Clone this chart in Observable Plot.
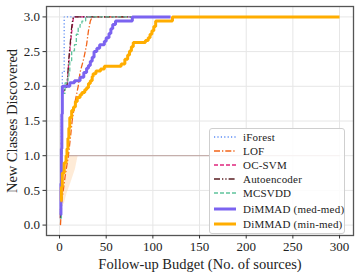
<!DOCTYPE html>
<html><head><meta charset="utf-8">
<script src="https://cdn.jsdelivr.net/npm/d3@7"></script>
<script src="https://cdn.jsdelivr.net/npm/@observablehq/plot@0.6"></script>
<style>
body{margin:0;background:#fff;}
#wrap{position:relative;width:360px;height:278px;font-family:"Liberation Serif",serif;}
#legend{position:absolute;left:209px;top:127.5px;width:134px;height:104px;border:1px solid #cfcfcf;border-radius:3px;background:rgba(255,255,255,0.85);font-size:11px;color:#222;font-family:"Liberation Serif",serif;}
#legend .row{position:absolute;left:0;height:14px;display:flex;align-items:center;}
#legend .row span{position:absolute;left:33px;white-space:nowrap;line-height:14px;letter-spacing:0.2px;}
#legend svg{position:absolute;left:3px;top:0;}
</style>
</head><body>
<div id="wrap"></div>
<script>
const xTicks = [0, 50, 100, 150, 200, 250, 300];
const yTicks = [0.0, 0.5, 1.0, 1.5, 2.0, 2.5, 3.0];

const iForestX = [1, 1.5, 2, 2.5, 3, 5, 77];
const iForestY = [0.3, 1.0, 1.6, 2.0, 2.2, 3.0, 3.0];

const lofX = [1, 2.5, 6, 9.5, 12, 13.5, 17, 20, 22, 26, 29, 31, 33, 35, 77];
const lofY = [0.0, 0.35, 0.7, 1.0, 1.3, 1.5, 1.8, 2.0, 2.2, 2.4, 2.6, 2.8, 2.94, 3.0, 3.0];

const ocsvmX = [1, 2, 3, 8, 10, 12, 14, 15, 77];
const ocsvmY = [0.1, 1.0, 1.9, 2.0, 2.35, 2.65, 2.9, 3.0, 3.0];

const aeX = [1, 2, 3, 8, 9, 10, 11, 12, 13, 14, 15, 77];
const aeY = [0.1, 1.0, 1.9, 2.0, 2.2, 2.4, 2.55, 2.7, 2.85, 2.95, 3.0, 3.0];

const mcsvddX = [1, 2, 3, 6, 9, 10, 11, 13, 16, 18, 20, 22, 24, 28, 77];
const mcsvddY = [0.1, 1.0, 1.9, 2.05, 2.13, 2.2, 2.37, 2.51, 2.6, 2.75, 2.84, 2.89, 2.94, 3.0, 3.0];

const medX = [1, 1.5, 2, 2.5, 3, 11, 16, 22, 26, 29, 31, 33, 35, 37, 40, 43, 48, 50, 53, 55, 57, 60, 78, 119];
const medY = [0.15, 0.6, 1.1, 1.6, 2.0, 2.05, 2.08, 2.13, 2.2, 2.26, 2.3, 2.36, 2.42, 2.5, 2.55, 2.6, 2.65, 2.7, 2.76, 2.83, 2.89, 2.94, 3.0, 3.0];

const minX = [1, 2, 3, 5, 7, 8, 9, 10, 11, 13, 15, 17, 19, 22, 24, 27, 29, 31, 33, 35, 36, 39, 44, 48, 66, 70, 73, 75, 77, 79, 92, 95, 97, 99, 101, 103, 121, 300];
const minY = [0.35, 0.55, 0.75, 0.9, 1.0, 1.1, 1.25, 1.4, 1.55, 1.65, 1.7, 1.78, 1.84, 1.88, 1.91, 1.95, 1.98, 2.04, 2.08, 2.14, 2.18, 2.22, 2.25, 2.29, 2.32, 2.39, 2.45, 2.51, 2.57, 2.63, 2.66, 2.7, 2.75, 2.8, 2.86, 2.94, 3.0, 3.0];

const bandY  = [0.3, 0.45, 0.6, 0.8, 1.0];
const bandX1 = [1, 1.5, 2, 3, 8];
const bandX2 = [5, 8, 12, 17, 20];

const refLineX = [9, 300];
const refLineY = [1, 1];

const series = [
  {name: "iForest", xs: iForestX, ys: iForestY, color: "#5b8cf5", width: 1.3, dash: "1.2,2.2", curve: "step-after"},
  {name: "LOF", xs: lofX, ys: lofY, color: "#f26419", width: 1.3, dash: "6,2,1.3,2", curve: "linear"},
  {name: "OC-SVM", xs: ocsvmX, ys: ocsvmY, color: "#e0267e", width: 1.3, dash: "4,2", curve: "linear"},
  {name: "Autoencoder", xs: aeX, ys: aeY, color: "#5a1e22", width: 1.3, dash: "6,2,1.3,2,1.3,2", curve: "linear"},
  {name: "MCSVDD", xs: mcsvddX, ys: mcsvddY, color: "#5fc49c", width: 1.3, dash: "4,2", curve: "step-after"},
  {name: "DiMMAD (med-med)", xs: medX, ys: medY, color: "#7b63f0", width: 3, dash: null, curve: "step-after"},
  {name: "DiMMAD (min-med)", xs: minX, ys: minY, color: "#ffad00", width: 3, dash: null, curve: "step-after"}
];

const toRows = (xs, ys) => xs.map((x, i) => ({x, y: ys[i]}));
const band = bandY.map((y, i) => ({y, x1: bandX1[i], x2: bandX2[i]}));

const marks = [
  Plot.gridX(xTicks, {stroke: "#e6e6e6", strokeOpacity: 1}),
  Plot.gridY(yTicks, {stroke: "#e6e6e6", strokeOpacity: 1}),
  Plot.areaX(band, {y: "y", x1: "x1", x2: "x2", fill: "#fdd2a6", fillOpacity: 0.45}),
  Plot.line(toRows(refLineX, refLineY), {x: "x", y: "y", stroke: "#b89a96", strokeWidth: 0.9})
];
for (const s of series) {
  marks.push(Plot.line(toRows(s.xs, s.ys), {x: "x", y: "y", stroke: s.color, strokeWidth: s.width,
    strokeDasharray: s.dash || undefined, curve: s.curve, strokeLinejoin: "miter", strokeLinecap: "butt"}));
}
marks.push(
  Plot.frame({stroke: "#555", strokeWidth: 1.3}),
  Plot.axisX(xTicks, {tickSize: 3.5, tickPadding: 3, fontSize: 13, label: null, stroke: "#333", color: "#222"}),
  Plot.axisY(yTicks, {tickSize: 3.5, tickPadding: 3, fontSize: 13, label: null, tickFormat: d3.format(".1f"), stroke: "#333", color: "#222"}),
  Plot.text(["Follow-up Budget (No. of sources)"], {frameAnchor: "bottom", textAnchor: "middle", dy: 29, fontSize: 14.5, fill: "#222", lineAnchor: "middle"}),
  Plot.text(["New Classes Discovered"], {frameAnchor: "left", textAnchor: "middle", dx: -34, rotate: -90, fontSize: 14.5, fill: "#222", lineAnchor: "middle"})
);

const chart = Plot.plot({
  width: 360, height: 278,
  marginLeft: 46, marginRight: 7, marginTop: 6, marginBottom: 43,
  style: {fontFamily: "Liberation Serif, serif", background: "#fff"},
  x: {domain: [-13.95, 314.95]},
  y: {domain: [-0.15, 3.15]},
  marks
});
const wrap = document.getElementById("wrap");
wrap.appendChild(chart);

const legend = document.createElement("div");
legend.id = "legend";
const rowTops = [1, 15.2, 29.4, 43.6, 57.8, 73, 88.5];
series.forEach((s, i) => {
  const row = document.createElement("div");
  row.className = "row";
  row.style.top = rowTops[i] + "px";
  const svgNS = "http://www.w3.org/2000/svg";
  const svg = document.createElementNS(svgNS, "svg");
  svg.setAttribute("width", "24"); svg.setAttribute("height", "14");
  const ln = document.createElementNS(svgNS, "line");
  ln.setAttribute("x1", "1"); ln.setAttribute("x2", "23");
  ln.setAttribute("y1", "7"); ln.setAttribute("y2", "7");
  ln.setAttribute("stroke", s.color); ln.setAttribute("stroke-width", s.width);
  if (s.dash) ln.setAttribute("stroke-dasharray", s.dash);
  svg.appendChild(ln);
  row.appendChild(svg);
  const t = document.createElement("span");
  t.textContent = s.name;
  row.appendChild(t);
  legend.appendChild(row);
});
wrap.appendChild(legend);
</script>
</body></html>
